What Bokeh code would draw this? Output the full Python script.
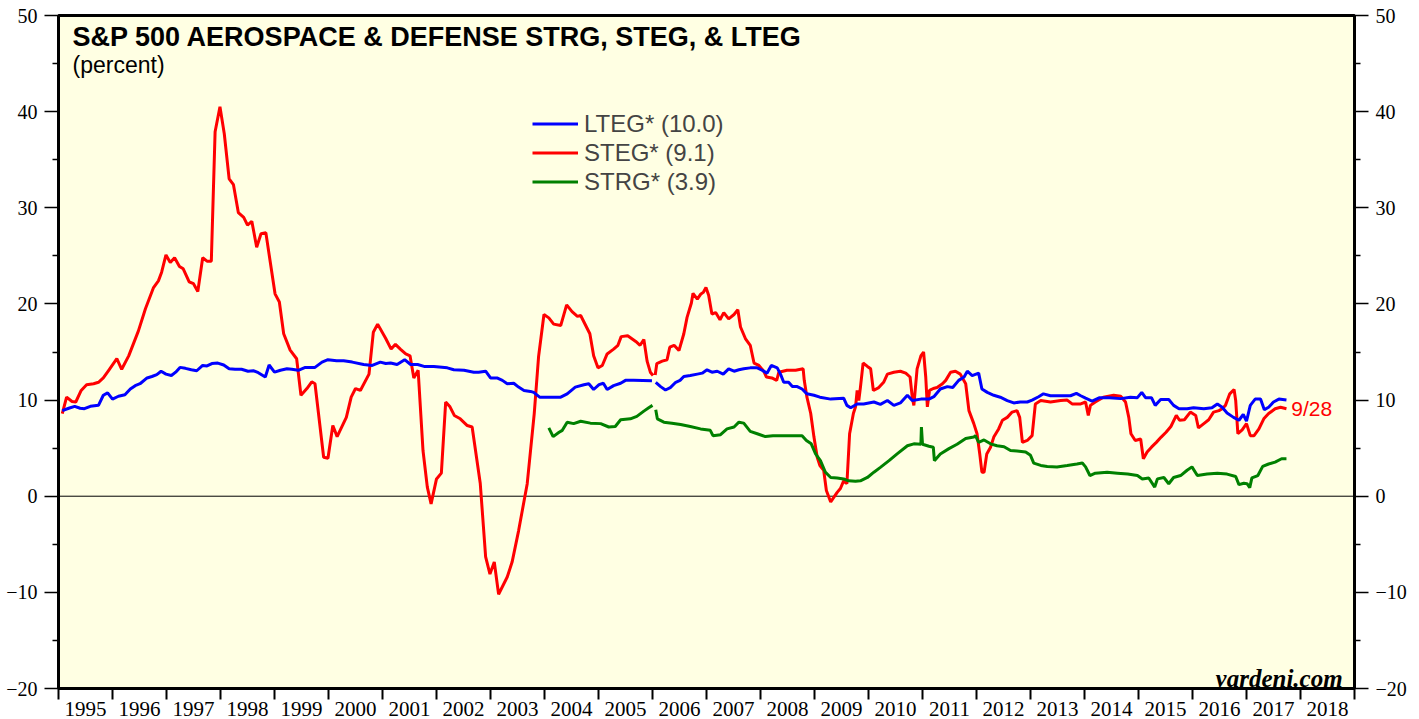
import numpy as np
from bokeh.plotting import figure
from bokeh.models import (Range1d, LinearAxis, FixedTicker, Span, Label,
                          Legend, LegendItem)
from bokeh.embed import file_html
from bokeh.resources import INLINE

NaN = float("nan")

# ---------------- data (decimal years, percent) ----------------
steg_x = [1995.07, 1995.15, 1995.25, 1995.32, 1995.42, 1995.52, 1995.65, 1995.74, 1995.83, 1995.93,
          1996.08, 1996.17, 1996.30, 1996.48, 1996.61, 1996.76, 1996.85, 1996.91, 1996.99, 1997.07,
          1997.15, 1997.24, 1997.31, 1997.42, 1997.50, 1997.58, 1997.67, 1997.75, 1997.83, 1997.90,
          1997.99, 1998.07, 1998.16, 1998.24, 1998.33, 1998.43, 1998.50, 1998.58, 1998.67, 1998.75,
          1998.84, 1999.01, 1999.09, 1999.17, 1999.29, 1999.41, 1999.49, 1999.60, 1999.69, 1999.75,
          1999.91, 1999.99, 2000.08, 2000.16, 2000.33, 2000.42, 2000.50, 2000.59, 2000.75, 2000.83,
          2000.91, 2001.06, 2001.16, 2001.24, 2001.33, 2001.43, 2001.51, 2001.58, 2001.66, 2001.75,
          2001.83, 2001.90, 2002.00, 2002.09, 2002.17, 2002.25, 2002.33, 2002.44, 2002.57, 2002.66,
          2002.81, 2002.91, 2002.99, 2003.07, 2003.15, 2003.31, 2003.40, 2003.52, 2003.68, 2003.81,
          2003.89, 2003.99, 2004.08, 2004.17, 2004.30, 2004.41, 2004.51, 2004.61, 2004.67, 2004.84,
          2004.91, 2004.99, 2005.07, 2005.16, 2005.28, 2005.36, 2005.42, 2005.54, 2005.69, 2005.77,
          2005.84, 2005.90, 2005.96, 2006.01, 2006.03, 2006.05, 2006.08, 2006.18, 2006.27, 2006.32,
          2006.40, 2006.49, 2006.58, 2006.64, 2006.72, 2006.75, 2006.83, 2006.89, 2006.94, 2006.99,
          2007.04, 2007.10, 2007.17, 2007.25, 2007.32, 2007.41, 2007.51, 2007.58, 2007.63, 2007.72,
          2007.81, 2007.88, 2007.97, 2008.06, 2008.11, 2008.21, 2008.30, 2008.34, 2008.49, 2008.65,
          2008.79, 2008.81, 2008.86, 2008.93, 2008.99, 2009.05, 2009.10, 2009.17, 2009.22, 2009.30,
          2009.36, 2009.42, 2009.48, 2009.54, 2009.60, 2009.65, 2009.72, 2009.76, 2009.79, 2009.82,
          2009.85, 2009.90, 2009.98, 2010.04, 2010.09, 2010.19, 2010.28, 2010.35, 2010.47, 2010.59,
          2010.69, 2010.77, 2010.81, 2010.84, 2010.90, 2010.97, 2011.02, 2011.06, 2011.09, 2011.13,
          2011.20, 2011.27, 2011.37, 2011.43, 2011.52, 2011.61, 2011.70, 2011.80, 2011.86, 2011.95,
          2012.01, 2012.06, 2012.10, 2012.14, 2012.19, 2012.26, 2012.32, 2012.41, 2012.48, 2012.57,
          2012.66, 2012.75, 2012.80, 2012.85, 2012.94, 2013.03, 2013.09, 2013.19, 2013.37, 2013.56,
          2013.68, 2013.77, 2013.93, 2014.02, 2014.07, 2014.11, 2014.20, 2014.35, 2014.54, 2014.67,
          2014.76, 2014.82, 2014.86, 2014.94, 2015.04, 2015.09, 2015.16, 2015.24, 2015.33, 2015.42,
          2015.51, 2015.60, 2015.70, 2015.76, 2015.85, 2015.96, 2016.06, 2016.11, 2016.21, 2016.30,
          2016.39, 2016.49, 2016.55, 2016.61, 2016.69, 2016.77, 2016.80, 2016.84, 2016.92, 2017.00,
          2017.07, 2017.14, 2017.23, 2017.32, 2017.41, 2017.53, 2017.63, 2017.74]
steg_y = [8.6, 10.3, 9.85, 9.8, 11.0, 11.6, 11.7, 11.85, 12.3, 13.1,
          14.3, 13.2, 14.6, 17.2, 19.5, 21.7, 22.4, 23.3, 25.1, 24.3,
          24.8, 23.9, 23.65, 22.3, 22.1, 21.3, 24.8, 24.45, 24.45, 37.9,
          40.5, 37.7, 33.0, 32.4, 29.5, 29.0, 28.2, 28.6, 25.9, 27.3,
          27.4, 21.05, 20.2, 16.9, 15.2, 14.3, 10.5, 11.2, 11.9, 11.7,
          4.05, 3.95, 7.35, 6.2, 8.2, 10.3, 11.2, 11.0, 12.7, 17.05,
          17.9, 16.4, 15.3, 15.8, 15.3, 14.8, 14.6, 12.3, 13.1, 4.75,
          0.95, -0.8, 1.8, 2.4, 9.8, 9.3, 8.4, 8.05, 7.35, 7.2,
          1.35, -6.3, -8.1, -6.85, -10.2, -8.4, -6.85, -3.6, 1.3, 8.6,
          14.5, 18.9, 18.55, 17.9, 17.75, 19.9, 19.2, 18.7, 18.8, 16.9,
          14.6, 13.35, 13.6, 14.8, 15.3, 15.7, 16.6, 16.7, 16.1, 15.7,
          16.3, 14.05, 12.9, 12.55, NaN, 12.6, 13.8, 14.05, 14.2, 15.5,
          15.7, 15.15, 16.9, 18.6, 20.1, 21.1, 20.5, 21.0, 21.2, 21.7,
          20.9, 18.95, 19.1, 18.35, 19.1, 18.45, 18.9, 19.4, 17.6, 16.4,
          15.7, 13.85, 13.6, 13.0, 12.4, 12.3, 12.05, 12.9, 13.1, 13.1,
          13.25, 12.05, 10.3, 8.6, 6.15, 4.05, 3.2, 2.7, 0.6, -0.6,
          -0.1, 0.4, 0.8, 1.6, 1.3, 6.5, 8.6, 9.3, 11.0, 9.95,
          11.3, 13.85, 13.5, 13.25, 11.0, 11.3, 11.85, 12.7, 12.9, 13.0,
          12.8, 12.4, 10.3, 9.45, 13.25, 14.6, 15.0, 12.4, 9.3, 11.0,
          11.2, 11.3, 11.7, 12.05, 12.9, 13.0, 12.7, 11.7, 8.9, 7.55,
          6.5, 4.4, 2.5, 2.5, 4.4, 5.1, 6.15, 7.0, 7.9, 8.2,
          8.75, 8.9, 8.2, 5.6, 5.8, 6.3, 9.6, 9.95, 9.8, 9.95,
          10.0, 9.6, 9.6, 9.8, 8.4, 9.45, 9.8, 10.3, 10.5, 10.4,
          9.8, 8.2, 6.5, 5.8, 5.95, 3.9, 4.6, 5.1, 5.6, 6.15,
          6.65, 7.25, 8.4, 7.9, 7.95, 8.75, 8.4, 7.1, 7.55, 7.95,
          8.75, 8.9, 9.1, 9.45, 10.65, 11.1, 9.95, 6.5, 6.9, 7.55,
          6.3, 6.3, 7.0, 8.05, 8.6, 9.1, 9.25, 9.1]

lteg_x = [1995.07, 1995.19, 1995.30, 1995.40, 1995.48, 1995.59, 1995.74, 1995.83, 1995.91, 1996.00,
          1996.11, 1996.23, 1996.33, 1996.42, 1996.51, 1996.64, 1996.73, 1996.82, 1996.90, 1996.99,
          1997.09, 1997.17, 1997.25, 1997.35, 1997.46, 1997.56, 1997.67, 1997.75, 1997.84, 1997.95,
          1998.06, 1998.16, 1998.27, 1998.39, 1998.51, 1998.61, 1998.70, 1998.83, 1998.90, 1999.00,
          1999.11, 1999.23, 1999.32, 1999.44, 1999.57, 1999.66, 1999.75, 1999.88, 1999.99, 2000.15,
          2000.28, 2000.44, 2000.65, 2000.81, 2000.96, 2001.06, 2001.15, 2001.27, 2001.41, 2001.52,
          2001.65, 2001.77, 2001.95, 2002.20, 2002.32, 2002.51, 2002.69, 2002.78, 2002.91, 2003.00,
          2003.12, 2003.22, 2003.31, 2003.43, 2003.52, 2003.62, 2003.74, 2003.80, 2003.91, 2004.11,
          2004.30, 2004.42, 2004.57, 2004.73, 2004.82, 2004.91, 2005.01, 2005.09, 2005.16, 2005.28,
          2005.41, 2005.50, 2005.65, 2005.99, 2006.03, 2006.06, 2006.15, 2006.24, 2006.33, 2006.43,
          2006.51, 2006.58, 2006.70, 2006.83, 2006.92, 2007.01, 2007.10, 2007.20, 2007.31, 2007.41,
          2007.51, 2007.60, 2007.69, 2007.81, 2007.94, 2008.03, 2008.12, 2008.20, 2008.31, 2008.37,
          2008.43, 2008.52, 2008.59, 2008.68, 2008.77, 2008.86, 2008.99, 2009.10, 2009.30, 2009.54,
          2009.60, 2009.67, 2009.79, 2009.91, 2010.10, 2010.22, 2010.35, 2010.47, 2010.59, 2010.72,
          2010.81, 2010.97, 2011.12, 2011.21, 2011.33, 2011.46, 2011.56, 2011.67, 2011.77, 2011.83,
          2011.92, 2012.04, 2012.10, 2012.20, 2012.32, 2012.44, 2012.57, 2012.69, 2012.81, 2012.94,
          2013.03, 2013.15, 2013.24, 2013.37, 2013.56, 2013.74, 2013.85, 2013.93, 2014.02, 2014.14,
          2014.28, 2014.46, 2014.67, 2014.85, 2014.98, 2015.06, 2015.13, 2015.24, 2015.31, 2015.41,
          2015.56, 2015.65, 2015.75, 2015.90, 2016.02, 2016.21, 2016.36, 2016.46, 2016.55, 2016.64,
          2016.76, 2016.86, 2016.94, 2017.00, 2017.07, 2017.16, 2017.26, 2017.33, 2017.41, 2017.50,
          2017.60, 2017.74]
lteg_y = [8.9, 9.15, 9.35, 9.15, 9.1, 9.35, 9.45, 10.5, 10.75, 10.1,
          10.4, 10.55, 11.15, 11.5, 11.7, 12.3, 12.45, 12.65, 13.0, 12.7,
          12.55, 12.9, 13.4, 13.3, 13.15, 13.05, 13.6, 13.55, 13.8, 13.85,
          13.65, 13.25, 13.2, 13.2, 13.0, 13.05, 12.85, 12.4, 13.65, 12.9,
          13.1, 13.25, 13.2, 13.1, 13.4, 13.4, 13.4, 13.95, 14.2, 14.1,
          14.1, 13.95, 13.7, 13.6, 13.95, 13.8, 13.85, 13.7, 14.2, 13.7,
          13.7, 13.5, 13.5, 13.35, 13.15, 13.1, 12.9, 12.9, 13.0, 12.3,
          12.3, 12.05, 11.7, 11.75, 11.35, 11.0, 10.9, 10.8, 10.3, 10.3,
          10.3, 10.65, 11.35, 11.6, 11.7, 11.1, 11.6, 11.75, 11.1, 11.5,
          11.75, 12.05, 12.05, 12.0, NaN, 11.85, 11.4, 11.05, 11.3, 11.85,
          12.05, 12.45, 12.55, 12.7, 12.8, 13.15, 12.9, 13.0, 12.7, 13.25,
          13.0, 13.15, 13.25, 13.35, 13.35, 13.1, 12.8, 13.6, 13.35, 12.7,
          11.85, 11.85, 11.4, 11.4, 11.15, 10.65, 10.5, 10.3, 10.1, 10.2,
          9.45, 9.2, 9.6, 9.6, 9.8, 9.55, 9.95, 9.45, 9.7, 10.5,
          9.95, 10.1, 10.1, 10.35, 11.15, 11.4, 11.3, 12.05, 12.4, 13.0,
          12.55, 12.8, 11.15, 10.8, 10.5, 10.3, 9.95, 9.7, 9.8, 9.8,
          10.0, 10.35, 10.65, 10.45, 10.45, 10.45, 10.7, 10.45, 10.2, 9.9,
          10.25, 10.25, 10.15, 10.3, 10.25, 10.8, 10.25, 10.25, 9.45, 10.05,
          10.05, 9.45, 9.1, 9.1, 9.2, 9.1, 9.2, 9.6, 9.25, 8.65,
          8.2, 7.9, 8.5, 7.8, 9.45, 10.1, 10.1, 9.0, 9.25, 9.8,
          10.1, 10.0]

strg_x = [2004.08, 2004.16, 2004.27, 2004.33, 2004.42, 2004.54, 2004.67, 2004.85, 2005.04, 2005.19,
          2005.31, 2005.41, 2005.59, 2005.71, 2005.84, 2005.93, 2006.00, 2006.03, 2006.06, 2006.09,
          2006.21, 2006.36, 2006.52, 2006.70, 2006.89, 2007.07, 2007.12, 2007.26, 2007.38, 2007.51,
          2007.60, 2007.69, 2007.81, 2007.94, 2008.09, 2008.23, 2008.42, 2008.62, 2008.77, 2008.85,
          2008.94, 2009.02, 2009.11, 2009.20, 2009.30, 2009.42, 2009.54, 2009.63, 2009.76, 2009.85,
          2009.98, 2010.10, 2010.22, 2010.38, 2010.53, 2010.72, 2010.84, 2010.97, 2010.98, 2011.00,
          2011.12, 2011.20, 2011.22, 2011.33, 2011.49, 2011.64, 2011.80, 2011.95, 2011.98, 2012.04,
          2012.14, 2012.26, 2012.38, 2012.51, 2012.63, 2012.75, 2012.91, 2013.00, 2013.06, 2013.19,
          2013.31, 2013.49, 2013.68, 2013.86, 2013.96, 2014.02, 2014.10, 2014.20, 2014.42, 2014.61,
          2014.80, 2014.98, 2015.07, 2015.19, 2015.30, 2015.35, 2015.47, 2015.56, 2015.65, 2015.78,
          2015.90, 2015.99, 2016.09, 2016.27, 2016.46, 2016.64, 2016.80, 2016.86, 2016.95, 2017.01,
          2017.06, 2017.10, 2017.21, 2017.30, 2017.41, 2017.53, 2017.65, 2017.74]
strg_y = [7.1, 6.2, 6.65, 6.85, 7.7, 7.55, 7.8, 7.6, 7.55, 7.2,
          7.25, 7.95, 8.05, 8.3, 8.85, 9.2, 9.45, NaN, 9.0, 8.05,
          7.7, 7.6, 7.45, 7.25, 7.0, 6.85, 6.3, 6.4, 7.0, 7.2,
          7.7, 7.6, 6.75, 6.5, 6.2, 6.3, 6.3, 6.3, 6.3, 5.8,
          5.45, 4.4, 3.7, 2.5, 1.95, 1.9, 1.8, 1.6, 1.55, 1.6,
          1.95, 2.5, 3.0, 3.7, 4.4, 5.25, 5.45, 5.4, 7.2, 5.4,
          5.2, 5.1, 3.7, 4.4, 4.95, 5.4, 6.0, 6.15, 6.3, 5.6,
          5.85, 5.45, 5.25, 5.15, 4.75, 4.7, 4.6, 4.25, 3.45, 3.2,
          3.1, 3.05, 3.2, 3.35, 3.45, 3.05, 2.15, 2.4, 2.5, 2.4,
          2.3, 2.15, 1.8, 1.9, 0.95, 1.8, 1.95, 1.3, 1.95, 2.15,
          2.7, 3.05, 2.15, 2.3, 2.4, 2.3, 2.05, 1.2, 1.35, 1.3,
          0.9, 1.9, 2.15, 3.1, 3.35, 3.55, 3.9, 3.9]

series_names = ["LTEG* (10.0)", "STEG* (9.1)", "STRG* (3.9)"]
series_colors = ["#0000FF", "#FF0000", "#008000"]

year_ticks = list(range(1995, 2020))
year_label_pos = [y + 0.5 for y in range(1995, 2019)]
year_labels = [str(y) for y in range(1995, 2019)]
y_major = list(range(-20, 51, 10))
y_minor = list(range(-15, 50, 10))

title_text = "S&P 500 AEROSPACE & DEFENSE STRG, STEG, & LTEG"
subtitle_text = "(percent)"
end_date_text = "9/28"
source_text = "yardeni.com"

# ---------------- figure ----------------
p = figure(width=1411, height=719,
           x_range=Range1d(1995, 2019), y_range=Range1d(-20, 50),
           output_backend="svg", toolbar_location=None,
           min_border_left=58, min_border_right=57,
           min_border_top=15, min_border_bottom=31,
           background_fill_color="#FFFFE3", border_fill_color="white",
           outline_line_color="black", outline_line_width=3)
p.xgrid.visible = False
p.ygrid.visible = False

serif = "Liberation Serif"
sans = "Liberation Sans"

# x axis: year boundaries as (minor) ticks, labels centred in each year
xa = p.xaxis[0]
xa.ticker = FixedTicker(ticks=year_label_pos, minor_ticks=year_ticks)
xa.major_label_overrides = {pos: lab for pos, lab in zip(year_label_pos, year_labels)}
xa.major_tick_out = 0
xa.major_tick_in = 0
xa.minor_tick_out = 11
xa.minor_tick_in = 0
xa.minor_tick_line_width = 2
xa.minor_tick_line_color = "black"
xa.axis_line_width = 3
xa.major_label_standoff = 2
xa.major_label_text_font = serif
xa.major_label_text_font_size = "21px"
xa.major_label_text_color = "black"

def style_y(ax):
    ax.ticker = FixedTicker(ticks=y_major, minor_ticks=y_minor)
    ax.major_tick_out = 14
    ax.major_tick_in = 0
    ax.minor_tick_out = 6
    ax.minor_tick_in = 0
    ax.major_tick_line_width = 1.5
    ax.minor_tick_line_width = 1.5
    ax.axis_line_width = 3
    ax.major_label_standoff = 7
    ax.major_label_text_font = serif
    ax.major_label_text_font_size = "20px"
    ax.major_label_text_color = "black"

style_y(p.yaxis[0])
ra = LinearAxis()
style_y(ra)
p.add_layout(ra, "right")

p.add_layout(Span(location=0, dimension="width", line_color="black",
                  line_width=1, level="underlay"))

r_lteg = p.line(lteg_x, lteg_y, line_color=series_colors[0], line_width=3)
r_steg = p.line(steg_x, steg_y, line_color=series_colors[1], line_width=3)
r_strg = p.line(strg_x, strg_y, line_color=series_colors[2], line_width=3)
p.renderers.remove(r_lteg)
p.renderers.append(r_lteg)

legend = Legend(items=[LegendItem(label=series_names[0], renderers=[r_lteg]),
                       LegendItem(label=series_names[1], renderers=[r_steg]),
                       LegendItem(label=series_names[2], renderers=[r_strg])],
                location=(474, 492), orientation="vertical",
                background_fill_alpha=0, border_line_alpha=0,
                padding=0, margin=0, spacing=0,
                glyph_width=46, glyph_height=29, label_height=29,
                label_standoff=6, label_text_font=sans,
                label_text_font_size="24px")
p.add_layout(legend)

p.add_layout(Label(x=1995.26, y=47.73, text=title_text, text_font=sans,
                   text_font_style="bold", text_font_size="27px",
                   text_baseline="alphabetic", text_color="black"))
p.add_layout(Label(x=1995.26, y=44.8, text=subtitle_text, text_font=sans,
                   text_font_size="23px", text_baseline="alphabetic",
                   text_color="black"))
p.add_layout(Label(x=2017.83, y=steg_y[-1], text=end_date_text, text_font=sans,
                   text_font_size="21px", text_baseline="middle",
                   text_color="#FF0000"))
p.add_layout(Label(x=2018.78, y=-18.96, text=source_text, text_font=serif,
                   text_font_style="bold italic", text_font_size="25px",
                   text_align="right", text_baseline="alphabetic",
                   text_color="black"))

open("out.html", "w").write(file_html(p, INLINE))
